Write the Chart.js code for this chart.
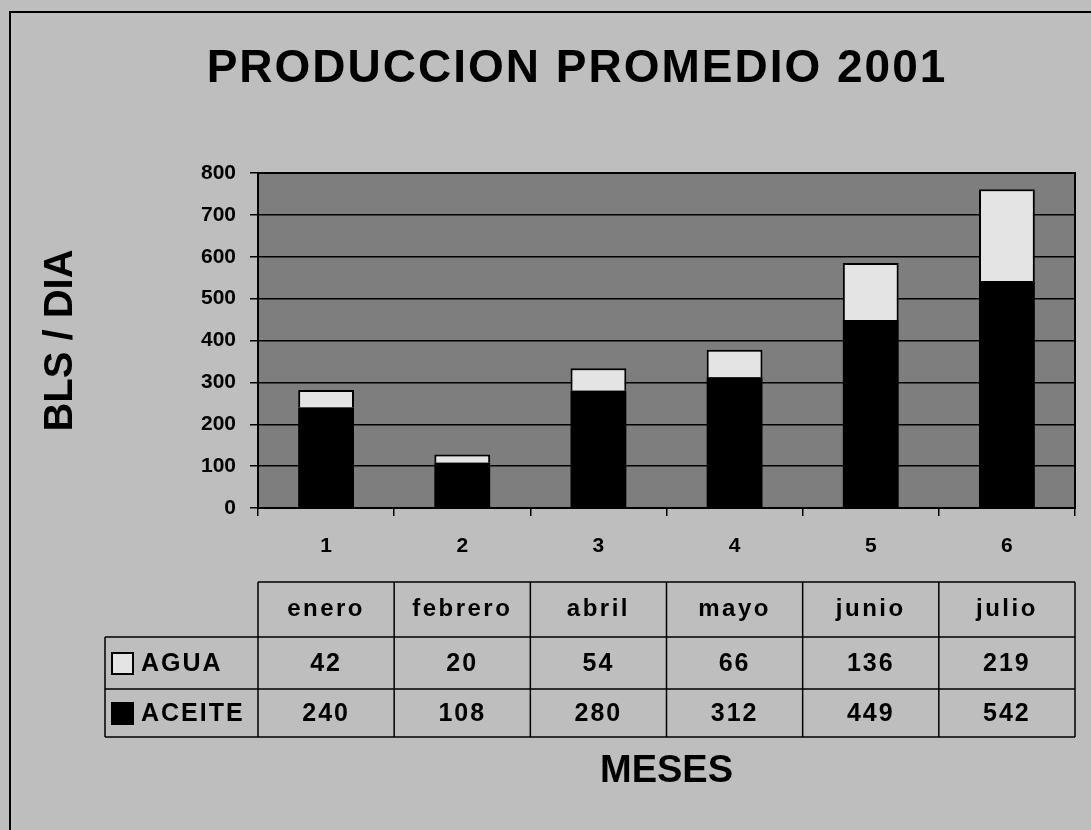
<!DOCTYPE html>
<html>
<head>
<meta charset="utf-8">
<script src="https://cdn.jsdelivr.net/npm/chart.js@4.4.1/dist/chart.umd.min.js"></script>
<style>
  html, body { margin: 0; padding: 0; background: #bebebe; }
  #wrap { width: 1091px; height: 830px; }
</style>
</head>
<body>
<div id="wrap"><canvas id="prodChart"></canvas></div>
<script>
const chartTitle = "PRODUCCION PROMEDIO 2001";
const categories = ["1", "2", "3", "4", "5", "6"];
const months = ["enero", "febrero", "abril", "mayo", "junio", "julio"];
const seriesNames = ["AGUA", "ACEITE"];
const agua = [42, 20, 54, 66, 136, 219];
const aceite = [240, 108, 280, 312, 449, 542];

const bgColor = "#bebebe";
const plotColor = "#7e7e7e";
const aguaColor = "#e4e4e4";
const ink = "#000";
const fam = "'Liberation Sans', Arial, Helvetica, sans-serif";

// background, frame, plot fill, title, and the data table under the axis
const decor = {
  id: "decor",
  beforeDraw(chart) {
    const { ctx, width, height, chartArea: a } = chart;
    ctx.save();
    ctx.fillStyle = bgColor;
    ctx.fillRect(0, 0, width, height);
    ctx.strokeStyle = ink;
    ctx.lineWidth = 2;
    ctx.beginPath();
    ctx.moveTo(10, height);
    ctx.lineTo(10, 12);
    ctx.lineTo(width, 12);
    ctx.stroke();
    ctx.fillStyle = plotColor;
    ctx.fillRect(a.left, a.top, a.right - a.left, a.bottom - a.top);
    ctx.fillStyle = ink;
    ctx.font = "bold 46px " + fam;
    ctx.letterSpacing = "2px";
    ctx.textAlign = "center";
    ctx.textBaseline = "alphabetic";
    ctx.fillText(chartTitle, 577, 82);
    ctx.restore();
  },
  afterDatasetsDraw(chart) {
    const { ctx, chartArea: a } = chart;
    ctx.save();
    ctx.strokeStyle = ink;
    ctx.lineWidth = 2;
    ctx.strokeRect(a.left, a.top, a.right - a.left, a.bottom - a.top);
    ctx.restore();
  },
  afterDraw(chart) {
    const { ctx, chartArea: a } = chart;
    const x = chart.scales.x;
    const colW = (x.right - x.left) / months.length;
    const rows = [a.bottom + 74, a.bottom + 129, a.bottom + 181, a.bottom + 229];
    const labelLeft = 105;
    ctx.save();
    ctx.strokeStyle = ink;
    ctx.lineWidth = 1.5;
    ctx.beginPath();
    ctx.moveTo(x.left, rows[0]);
    ctx.lineTo(x.right, rows[0]);
    for (let r = 1; r < rows.length; r++) {
      ctx.moveTo(labelLeft, rows[r]);
      ctx.lineTo(x.right, rows[r]);
    }
    for (let i = 0; i <= months.length; i++) {
      const cx = x.left + i * colW;
      ctx.moveTo(cx, rows[0]);
      ctx.lineTo(cx, rows[3]);
    }
    ctx.moveTo(labelLeft, rows[1]);
    ctx.lineTo(labelLeft, rows[3]);
    ctx.stroke();

    ctx.fillStyle = ink;
    ctx.textBaseline = "middle";
    ctx.textAlign = "center";
    ctx.font = "bold 24px " + fam;
    ctx.letterSpacing = "2.5px";
    months.forEach((m, i) => ctx.fillText(m, x.left + (i + 0.5) * colW, (rows[0] + rows[1]) / 2));

    ctx.font = "bold 25px " + fam;
    ctx.letterSpacing = "2px";
    const rowVals = [agua, aceite];
    rowVals.forEach((vals, r) => {
      const cy = (rows[r + 1] + rows[r + 2]) / 2;
      vals.forEach((v, i) => ctx.fillText(String(v), x.left + (i + 0.5) * colW, cy + 1));
    });

    // legend keys + series names
    ctx.textAlign = "left";
    seriesNames.forEach((name, r) => {
      const cy = (rows[r + 1] + rows[r + 2]) / 2;
      ctx.lineWidth = 2;
      ctx.fillStyle = r === 0 ? aguaColor : ink;
      ctx.fillRect(112, cy - 10, 21, 21);
      ctx.strokeRect(112, cy - 10, 21, 21);
      ctx.fillStyle = ink;
      ctx.fillText(name, 141, cy + 1);
    });
    ctx.restore();
  }
};

new Chart(document.getElementById("prodChart"), {
  type: "bar",
  data: {
    labels: categories,
    datasets: [
      {
        label: seriesNames[1],
        data: aceite,
        backgroundColor: ink,
        borderWidth: 0,
        barPercentage: 0.41,
        categoryPercentage: 1
      },
      {
        label: seriesNames[0],
        data: agua,
        backgroundColor: aguaColor,
        borderColor: ink,
        borderWidth: { top: 2, left: 2, right: 2, bottom: 0 },
        borderSkipped: false,
        barPercentage: 0.41,
        categoryPercentage: 1
      }
    ]
  },
  options: {
    responsive: true,
    maintainAspectRatio: false,
    animation: false,
    layout: { padding: { top: 173, right: 16, bottom: 20, left: 0 } },
    plugins: {
      legend: { display: false },
      tooltip: { enabled: false }
    },
    scales: {
      x: {
        stacked: true,
        afterFit(s) { s.height = 302; },
        grid: { display: true, drawOnChartArea: false, color: ink, lineWidth: 1.5, tickLength: 8, offset: true },
        border: { display: true, color: ink, width: 2 },
        ticks: { color: ink, padding: 18, font: { family: fam, size: 21, weight: "bold" } },
        title: {
          display: true,
          text: "MESES",
          color: ink,
          padding: { top: 0, bottom: 16 },
          font: { family: fam, size: 38, weight: "bold" }
        }
      },
      y: {
        stacked: true,
        min: 0,
        max: 800,
        afterFit(s) { s.width = 258; },
        grid: { color: ink, lineWidth: 1.5, tickLength: 8 },
        border: { display: true, color: ink, width: 2 },
        ticks: { stepSize: 100, color: ink, padding: 14, font: { family: fam, size: 21, weight: "bold" } },
        title: {
          display: true,
          text: "BLS / DIA",
          color: ink,
          padding: { top: 37, bottom: 0 },
          font: { family: fam, size: 40, weight: "bold" }
        }
      }
    }
  },
  plugins: [decor]
});
</script>
</body>
</html>
